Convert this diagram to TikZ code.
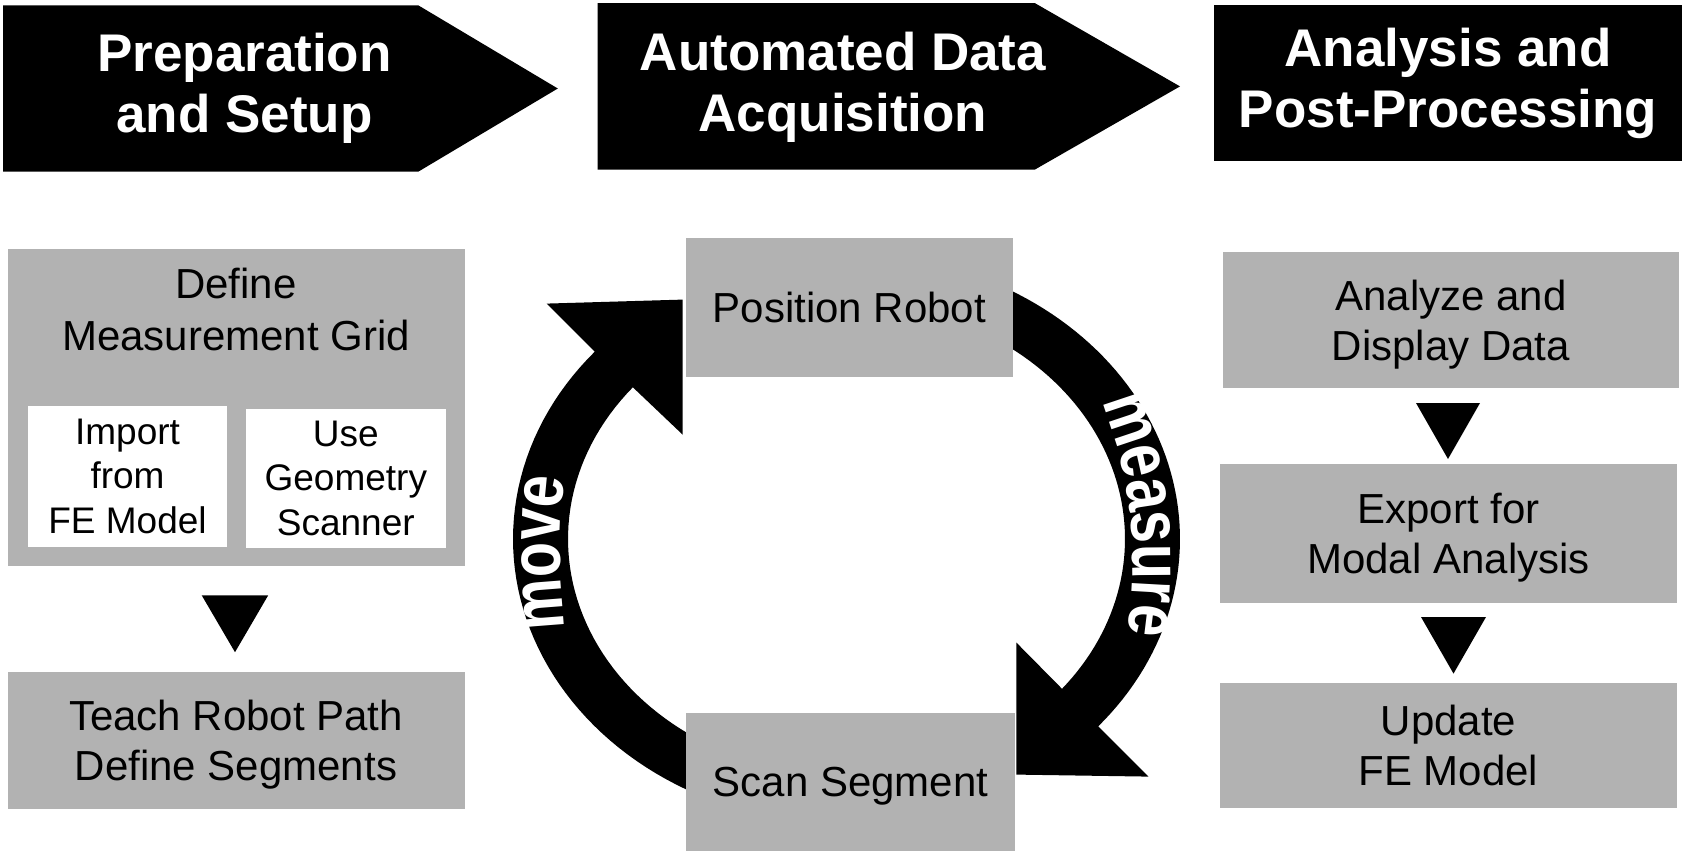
\documentclass[tikz,border=0pt]{standalone}
\usepackage{fontspec}
\setmainfont{Liberation Sans}
\newfontfamily\arcfont{Liberation Sans}[FakeStretch=0.8]
\usetikzlibrary{calc,backgrounds,decorations.text}
\definecolor{boxgray}{RGB}{178,178,178}
\newcommand\bodyfnt{\fontsize{21}{25}\selectfont}
\newcommand\smallfnt{\fontsize{18.5}{22.3}\selectfont}
\newcommand\hdrfnt{\bfseries\fontsize{26.5}{30.5}\selectfont}
\newcommand\nodp[1]{\raisebox{0pt}[\height][0pt]{#1}}
\begin{document}
\begin{tikzpicture}[x=0.5pt,y=-0.5pt,
  graybox/.style={fill=boxgray, inner sep=0pt, align=center, font=\bodyfnt},
  whitebox/.style={fill=white, inner sep=0pt, align=center, font=\smallfnt},
  bodytxt/.style={inner sep=0pt, align=center, font=\bodyfnt},
  hdrtxt/.style={inner sep=0pt, align=center, text=white, font=\hdrfnt},
  hdrshape/.style={fill=black},
  flowtri/.style={fill=black},
  ringarrow/.style={fill=black},
  arclabel/.style={decorate, decoration={text along path, text align=center, text color=white}}]
\useasboundingbox (0,0) rectangle (1682,851);
\def\cx{846.5}\def\cy{539}

% headers
\fill[hdrshape] (3.2,5.4) -- (418.4,5.4) -- (557.8,88.5) -- (418.4,171.6) -- (3.2,171.6) -- cycle;
\fill[hdrshape] (597.5,3.2) -- (1035,3.2) -- (1180,86.4) -- (1035,169.5) -- (597.5,169.5) -- cycle;
\fill[hdrshape] (1214,5.4) rectangle (1682,161);
\node[hdrtxt] (hdrA) at (244.5,88.4) {Preparation\\and Setup};
\node[hdrtxt] (hdrB) at (843,87.4) {Automated Data\\Acquisition};
\node[hdrtxt] (hdrC) at (1448,83.4) {Analysis and\\Post-Processing};

% left column
\node[graybox, minimum width=228.5pt, minimum height=158.5pt] (gridbox) at (236,407.5) {};
\node[bodytxt, font=\fontsize{21}{26}\selectfont] (gridtitle) at (236,309) {Define\\Measurement Grid};
\node[whitebox, minimum width=99.5pt, minimum height=70.75pt] (fembox) at (127.5,476.3) {Import\\from\\FE Model};
\node[whitebox, minimum width=100.2pt, minimum height=69.65pt] (scannerbox) at (345.8,478.4) {Use\\Geometry\\Scanner};
\node[graybox, minimum width=228.5pt, minimum height=68.75pt] (teachbox) at (236,740.25) {Teach Robot Path\\\nodp{Define Segments}};
\fill[flowtri] (201.7,595.3) -- (268.2,595.3) -- (235,652.2) -- cycle;

% middle
\node[graybox, minimum width=163.5pt, minimum height=69.5pt] (robot) at (849.5,307.5) {Position Robot};
\node[graybox, minimum width=164.5pt, minimum height=69pt] (scan) at (850.5,782) {\nodp{Scan Segment}};

% right column
\node[graybox, minimum width=228pt, minimum height=68pt] (analyze) at (1451,320) {Analyze and\\\nodp{Display Data}};
\node[graybox, minimum width=228.5pt, minimum height=69.5pt] (export) at (1448.5,533.5) {Export for\\\nodp{Modal Analysis}};
\node[graybox, minimum width=228.5pt, minimum height=62.5pt] (update) at (1448.5,745.5) {Update\\FE Model};
\fill[flowtri] (1416,403) -- (1480,403) -- (1448,459) -- cycle;
\fill[flowtri] (1421,617) -- (1486,617) -- (1453.5,673.6) -- cycle;

% ring arrows
\begin{scope}[on background layer]
\fill[ringarrow] plot[domain=80:221, samples=70] ({\cx+333.5*cos(\x)},{\cy+285.6*sin(\x)})
  -- ($(robot.north west)+(-139,66)$) -- ($(robot.north west)+(-3,62)$) -- ($(robot.north west)+(-3,197)$)
  -- plot[domain=219.9:80, samples=70] ({\cx+278.5*cos(\x)},{\cy+236.5*sin(\x)}) -- cycle;
\fill[ringarrow] plot[domain=-80:41, samples=70] ({\cx+333.5*cos(\x)},{\cy+285.6*sin(\x)})
  -- ($(scan.north east)+(133,64)$) -- ($(scan.north east)+(1,62)$) -- ($(scan.north east)+(1,-70)$)
  -- plot[domain=39.3:-80, samples=70] ({\cx+278.5*cos(\x)},{\cy+236.5*sin(\x)}) -- cycle;
\end{scope}
\path[arclabel, decoration={text={|\arcfont\bfseries\fontsize{36}{36}\selectfont|move}}]
  plot[domain=160:200, samples=80] ({1160+600*cos(\x)},{553+600*sin(\x)});
\path[arclabel, decoration={text={|\arcfont\bfseries\fontsize{36}{36}\selectfont|measure}}]
  plot[domain=-31.35:18.65, samples=80] ({690+443*cos(\x)},{565+443*sin(\x)});
\end{tikzpicture}
\end{document}
